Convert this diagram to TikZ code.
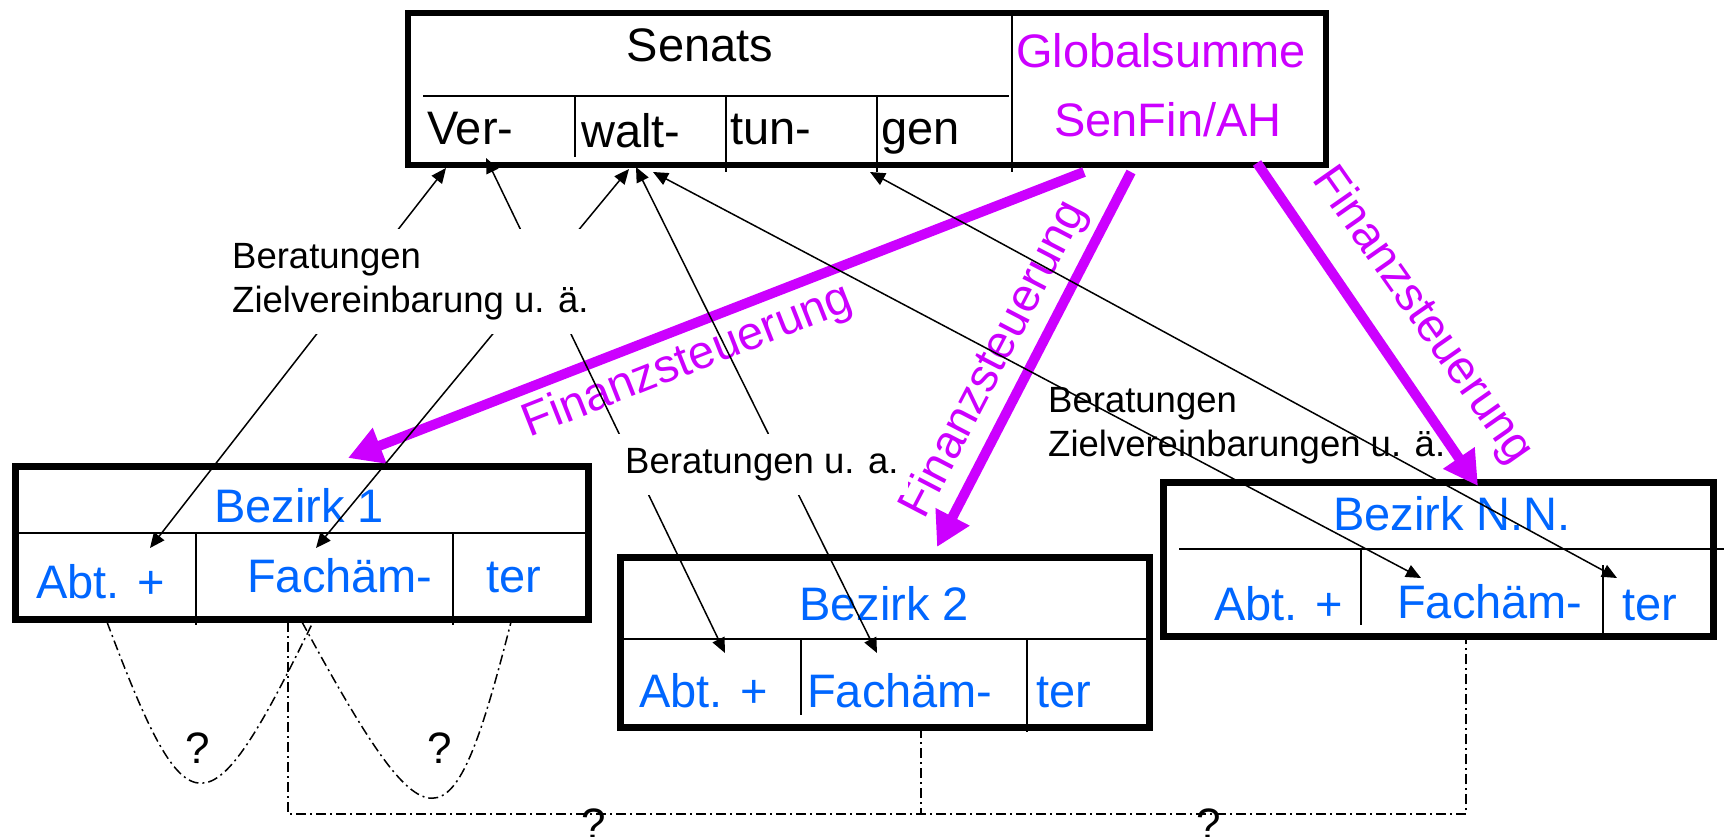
\documentclass[tikz,border=0pt]{standalone}
\usepackage{fontspec}
\setmainfont{Liberation Sans}
\usetikzlibrary{arrows.meta}
\definecolor{mag}{RGB}{204,0,255}
\definecolor{bzblue}{RGB}{0,102,255}
\begin{document}
\begin{tikzpicture}[x=1pt,y=-1pt,
  big/.style={font=\fontsize{47}{56}\selectfont, inner sep=0pt},
  bluetxt/.style={big, text=bzblue},
  magtxt/.style={big, text=mag},
  lab/.style={font=\fontsize{36.5}{44}\selectfont, inner sep=0pt, align=left},
  qm/.style={font=\fontsize{44}{50}\selectfont, inner sep=0pt},
  senbox/.style={draw, line width=6pt, inner sep=0pt},
  bzbox/.style={draw, line width=7pt, inner sep=0pt},
  inner/.style={line width=2.5pt},
  magarrow/.style={draw=mag, line width=10pt, -{Triangle[length=34pt,width=36pt]}},
  blk/.style={line width=1.5pt, arrows={Triangle[length=15pt,width=13pt]-Triangle[length=15pt,width=13pt]}},
  dashdot/.style={line width=1.5pt, dash pattern=on 10pt off 4pt on 2pt off 4pt}
]
\useasboundingbox (0,0) rectangle (1724,837);

% boxes
\node[senbox, minimum width=918pt, minimum height=152pt] (senat) at (867,89) {};
\node[bzbox, minimum width=573pt, minimum height=153pt] (bz1) at (301.5,542.5) {};
\node[bzbox, minimum width=529pt, minimum height=170pt] (bz2) at (884.5,642) {};
\node[bzbox, minimum width=550pt, minimum height=154pt] (bzn) at (1438,559) {};

% inner lines
\draw[inner] (423,96) -- (1009,96);
\draw[inner] (1012,16) -- (1012,172);
\draw[inner] (575,96) -- (575,157);
\draw[inner] (726,96) -- (726,172);
\draw[inner] (877,96) -- (877,172);
\draw[inner] (15,533) -- (588,533);
\draw[inner] (196,533) -- (196,625);
\draw[inner] (453,533) -- (453,625);
\draw[inner] (620,639) -- (1149,639);
\draw[inner] (801,639) -- (801,715);
\draw[inner] (1027,639) -- (1027,732);
\draw[inner] (1179,549) -- (1724,549);
\draw[inner] (1361,549) -- (1361,625);
\draw[inner] (1603,565) -- (1603,640);

% top box texts
\node[big, anchor=base] (tsen) at (700,62) {Senats};
\node[big, anchor=base west] (tver) at (427,145) {Ver-};
\node[big, anchor=base west] (twalt) at (581,148) {walt-};
\node[big, anchor=base west] (ttun) at (730,145) {tun-};
\node[big, anchor=base west] (tgen) at (881,145) {gen};
\node[magtxt, anchor=base] (tglob) at (1161,68) {Globalsumme};
\node[magtxt, anchor=base] (tsf) at (1168,137) {SenFin/AH};

% Bezirk texts
\node[bluetxt, anchor=base] (b1t) at (299,522) {Bezirk 1};
\node[bluetxt, anchor=base west] (b1a) at (36,598) {Abt. +};
\node[bluetxt, anchor=base west] (b1f) at (247,592) {Fachäm-};
\node[bluetxt, anchor=base west] (b1r) at (486,592) {ter};
\node[bluetxt, anchor=base] (b2t) at (884,620) {Bezirk 2};
\node[bluetxt, anchor=base west] (b2a) at (639,707) {Abt. +};
\node[bluetxt, anchor=base west] (b2f) at (807,707) {Fachäm-};
\node[bluetxt, anchor=base west] (b2r) at (1036,707) {ter};
\node[bluetxt, anchor=base] (bnt) at (1452,530) {Bezirk N.N.};
\node[bluetxt, anchor=base west] (bna) at (1214,620) {Abt. +};
\node[bluetxt, anchor=base west] (bnf) at (1397,618) {Fachäm-};
\node[bluetxt, anchor=base west] (bnr) at (1622,620) {ter};

% magenta arrows
\coordinate (m1s) at (1084,172);
\coordinate (m2s) at (1131,172);
\coordinate (m3s) at (1257,163);
\coordinate (m1e) at (348,458);
\coordinate (m2e) at (937,547);
\coordinate (m3e) at (1478,486);
\draw[magarrow] (m1s) -- (m1e);
\draw[magarrow] (m2s) -- (m2e);
\draw[magarrow] (m3s) -- (m3e);
\node[magtxt, rotate=21.5] (f1) at (688,362) {Finanzsteuerung};
\node[magtxt, rotate=62.5] (f2) at (995,360) {Finanzsteuerung};
\node[magtxt, rotate=-55] (f3) at (1422,316) {Finanzsteuerung};

% black connectors
\coordinate (uL1) at (446,168);
\coordinate (uA) at (486,158);
\coordinate (uL2) at (629,169);
\coordinate (uB) at (636,167);
\coordinate (uC) at (653,172);
\coordinate (uD) at (870,172);
\coordinate (dL1) at (150,548);
\coordinate (dL2) at (316,548);
\coordinate (dA) at (725,653);
\coordinate (dB) at (877,653);
\coordinate (dC) at (1421,578);
\coordinate (dD) at (1617,578);
\draw[blk] (uL1) -- (dL1);
\draw[blk] (uL2) -- (dL2);
\draw[blk] (uA) -- (dA);
\draw[blk] (uB) -- (dB);
\draw[blk] (uC) -- (dC);
\draw[blk] (uD) -- (dD);

% labels
\node[lab, fill=white, inner xsep=8pt, inner ysep=14pt, anchor=north west] (lab1) at (224,229) {Beratungen\\Zielvereinbarung u. ä.};
\node[lab, fill=white, inner xsep=10pt, inner ysep=14pt, anchor=base west] (lab2) at (615,473) {Beratungen u. a.};
\node[lab, anchor=north west] (lab3) at (1048,387) {Beratungen\\Zielvereinbarungen u. ä.};

% dash-dot relations
\coordinate (c1a) at (107,622);
\coordinate (c1b) at (313,622);
\coordinate (c2a) at (302,622);
\coordinate (c2b) at (511,622);
\coordinate (h1) at (288,622);
\coordinate (h2) at (288,814);
\coordinate (h3) at (1466,814);
\coordinate (h4) at (1466,636);
\coordinate (v1) at (921,728);
\coordinate (v2) at (921,814);
\draw[dashdot] (c1a) .. controls (188,837) and (208,837) .. (c1b);
\draw[dashdot] (c2a) .. controls (430,857) and (451,857) .. (c2b);
\draw[dashdot] (h1) -- (h2) -- (h3) -- (h4);
\draw[dashdot] (v1) -- (v2);

\node[qm, anchor=base] (q1) at (198,763) {?};
\node[qm, anchor=base] (q2) at (440,763) {?};
\node[qm, anchor=base] (q3) at (594,839) {?};
\node[qm, anchor=base] (q4) at (1209,839) {?};
\end{tikzpicture}
\end{document}
